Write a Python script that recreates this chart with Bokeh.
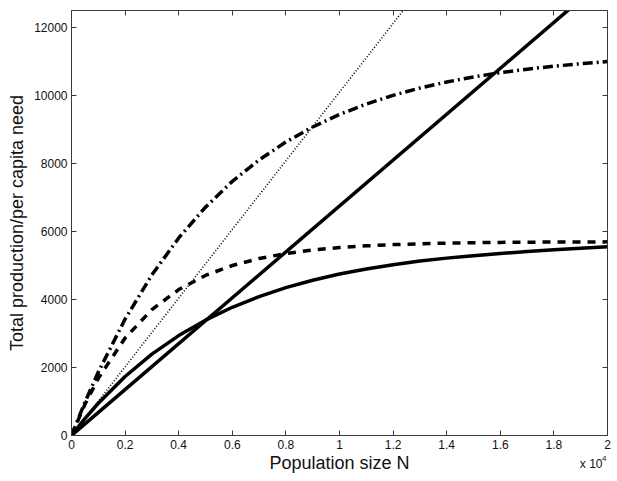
from bokeh.plotting import figure
from bokeh.models import LinearAxis, FixedTicker, Range1d, Label
from bokeh.embed import file_html
from bokeh.resources import INLINE

# Population size N
N = [0, 500, 1000, 2000, 3000, 4000, 5000, 6000, 7000, 8000, 9000, 10000,
     11000, 12000, 13000, 14000, 15000, 16000, 17000, 18000, 19000, 20000]

# saturating curves
solid_curve = [0, 497, 949, 1735, 2392, 2938, 3392, 3771, 4085, 4348, 4566, 4748,
               4899, 5025, 5130, 5217, 5290, 5355, 5410, 5465, 5510, 5550]
dashed_curve = [0, 914, 1681, 2867, 3702, 4292, 4707, 5000, 5206, 5352, 5454, 5527,
                5578, 5614, 5640, 5657, 5670, 5679, 5685, 5690, 5693, 5695]
dashdot_curve = [0, 975, 1867, 3424, 4724, 5811, 6717, 7474, 8106, 8633, 9074, 9441,
                 9749, 10005, 10219, 10397, 10546, 10671, 10775, 10862, 10934, 11000]

# straight lines
line_N = [0, 20000]
solid_line = [0, 13500]
dotted_line = [0, 20200]

x_ticks = [0, 2000, 4000, 6000, 8000, 10000, 12000, 14000, 16000, 18000, 20000]
x_tick_labels = ["0", "0.2", "0.4", "0.6", "0.8", "1", "1.2", "1.4", "1.6", "1.8", "2"]
y_ticks = [0, 2000, 4000, 6000, 8000, 10000, 12000]

FONT = "Liberation Sans"
AXC = "#3a3a3a"

p = figure(frame_width=536, frame_height=425, output_backend="svg", toolbar_location=None,
           x_range=Range1d(0, 20000), y_range=Range1d(0, 12500),
           min_border_left=71, min_border_right=10, min_border_top=10, min_border_bottom=46,
           x_axis_location=None, y_axis_location=None)
p.grid.visible = False
p.outline_line_color = AXC
p.outline_line_width = 1
p.background_fill_color = "white"
p.border_fill_color = "white"

xa = LinearAxis(ticker=FixedTicker(ticks=x_ticks),
                major_label_overrides={t: l for t, l in zip(x_ticks, x_tick_labels)})
ya = LinearAxis(ticker=FixedTicker(ticks=y_ticks))
xa.axis_label = "Population size N"
ya.axis_label = "Total production/per capita need"
for ax in (xa, ya):
    ax.axis_line_color = AXC
    ax.major_tick_line_color = AXC
    ax.major_tick_in = 5
    ax.major_tick_out = 0
    ax.minor_tick_line_color = None
    ax.major_label_text_font = FONT
    ax.major_label_text_font_size = "12px"
    ax.major_label_text_color = "#111111"
    ax.axis_label_text_font = FONT
    ax.axis_label_text_font_size = "18px"
    ax.axis_label_text_font_style = "normal"
    ax.axis_label_text_color = "#111111"
xa.major_label_standoff = 4
xa.axis_label_standoff = 1
ya.major_label_standoff = 4
ya.axis_label_standoff = 4
p.add_layout(xa, "below")
p.add_layout(ya, "left")

for loc, tk in (("above", x_ticks), ("right", y_ticks)):
    a = LinearAxis(ticker=FixedTicker(ticks=tk))
    a.axis_line_color = AXC
    a.major_tick_line_color = AXC
    a.major_tick_in = 5
    a.major_tick_out = 0
    a.minor_tick_line_color = None
    a.major_label_text_font_size = "1px"
    a.major_label_text_alpha = 0
    a.major_label_standoff = 0
    p.add_layout(a, loc)

p.line(line_N, dotted_line, line_color="black", line_width=1.6, line_dash="1 2")
p.line(line_N, solid_line, line_color="black", line_width=3.5)
p.line(N, solid_curve, line_color="black", line_width=3.5)
p.line(N, dashed_curve, line_color="black", line_width=3.5, line_dash="8 7")
p.line(N, dashdot_curve, line_color="black", line_width=3.5, line_dash="10 4 2 4")

p.add_layout(Label(x=531, y=26, x_units="screen", y_units="screen", text="x 10",
                   text_align="right", text_baseline="alphabetic", text_font=FONT,
                   text_font_size="12px", text_color="#111111"), "below")
p.add_layout(Label(x=535, y=36, x_units="screen", y_units="screen", text="4",
                   text_align="right", text_baseline="alphabetic", text_font=FONT,
                   text_font_size="8px", text_color="#111111"), "below")

open("out.html", "w").write(file_html(p, INLINE))
